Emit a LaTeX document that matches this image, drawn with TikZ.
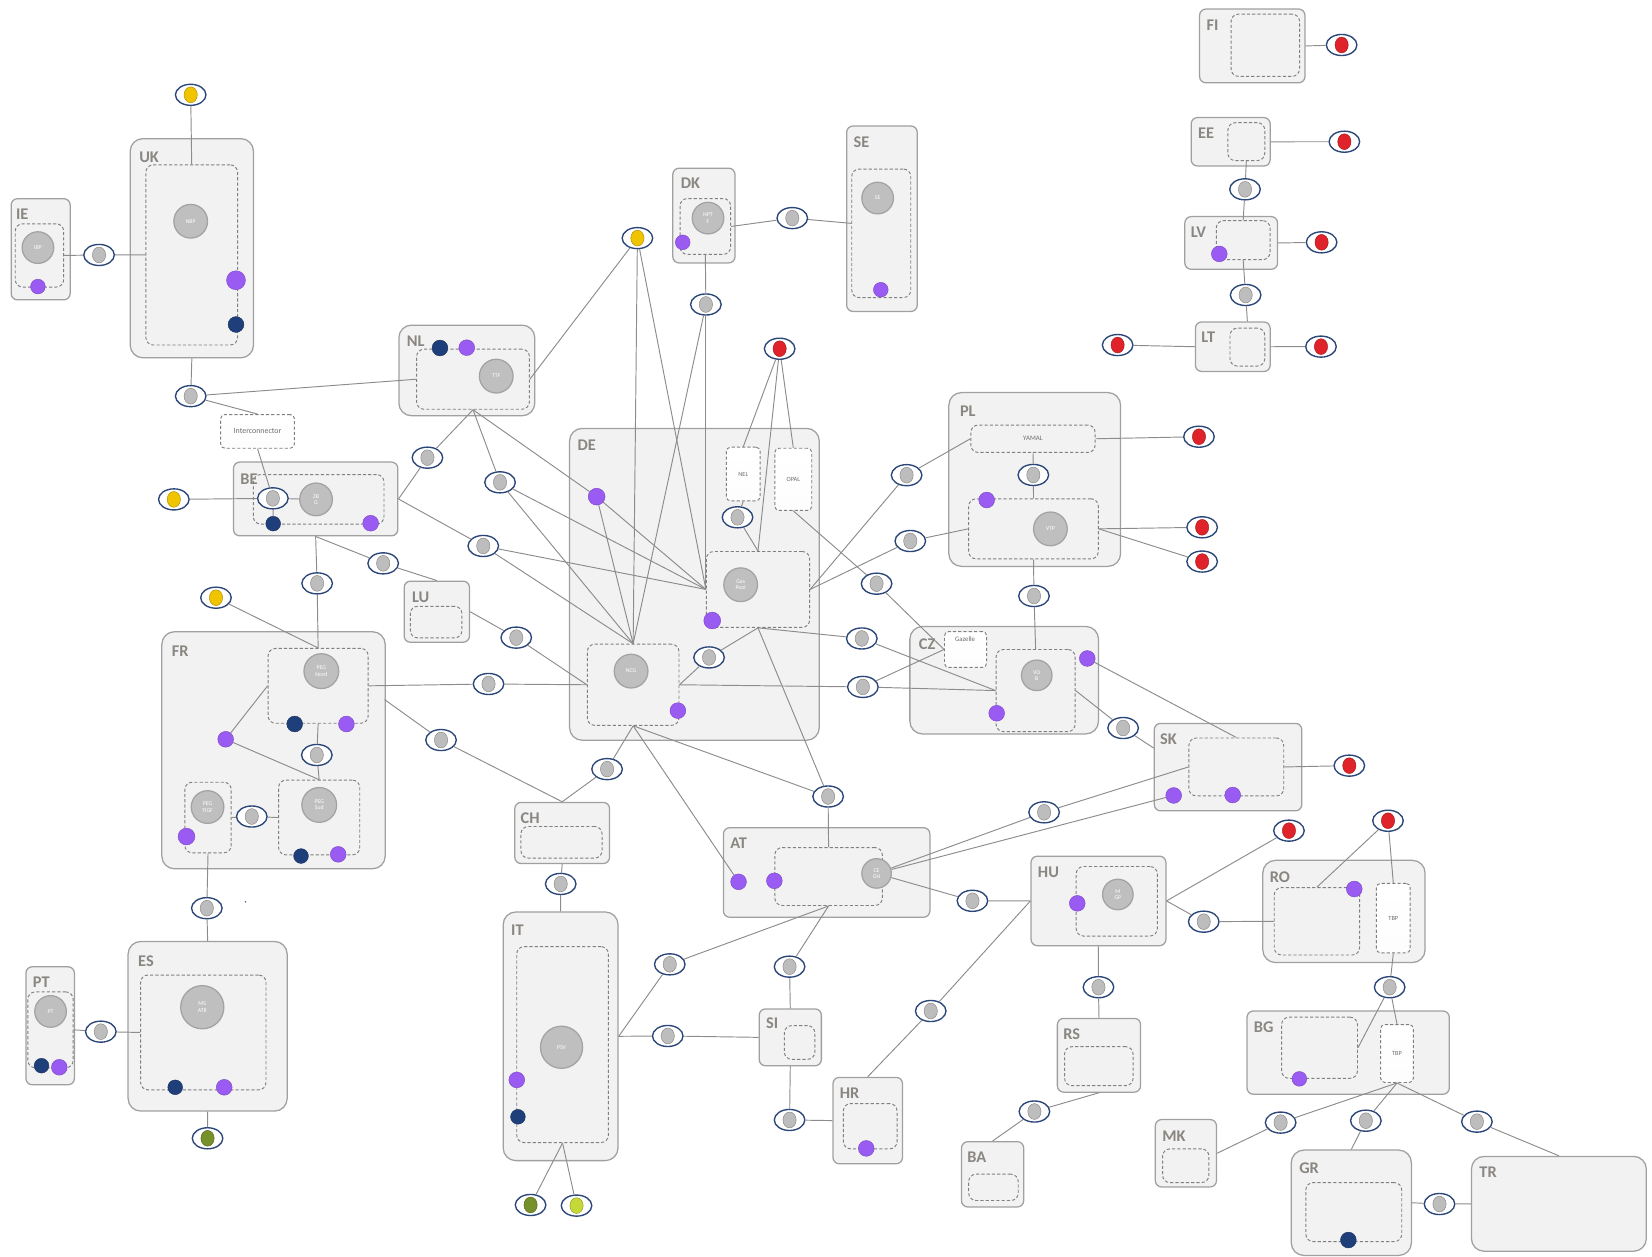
\documentclass[tikz,border=0pt]{standalone}
\usepackage{fontspec}
\setmainfont{Carlito}
\usetikzlibrary{shapes.geometric}
\definecolor{boxfill}{HTML}{F2F2F2}
\definecolor{boxdraw}{HTML}{A0A0A0}
\definecolor{dashdraw}{HTML}{808080}
\definecolor{hubfill}{HTML}{BFBFBF}
\definecolor{hubdraw}{HTML}{A3A3A3}
\definecolor{linegray}{HTML}{8C8C8C}
\definecolor{navyc}{HTML}{1F3F7A}
\definecolor{termblue}{HTML}{2B4679}
\definecolor{purp}{HTML}{9A5BF2}
\definecolor{redc}{HTML}{E0222A}
\definecolor{yel}{HTML}{F0C400}
\definecolor{olivec}{HTML}{76902A}
\definecolor{limec}{HTML}{C5D936}
\definecolor{tgray}{HTML}{BDBDBD}
\definecolor{lblcol}{HTML}{8A8682}
\definecolor{txtgray}{HTML}{6E6E6E}
\newcommand\mkbox[7]{\node[#6, anchor=north west, minimum width={(#4-(#2))*1pt}, minimum height={(#5-(#3))*1pt}] (#1) at (#2,#3) {#7};}
\newcommand\mklbl[3]{\node[lblst] (L#3) at (#1,#2) {#3};}
\newcommand\mkhub[5]{\node[hubst, minimum size={2*#4*1pt}] (#1) at (#2,#3) {#5};}
\newcommand\mkdot[5]{\node[circle, inner sep=0pt, fill=#4, draw=#4!80!black, line width=0.4pt, minimum size={2*#5*1pt}] (#1) at (#2,#3) {};}
\newcommand\mkterm[4]{\node[termst] (#1) at (#2,#3) {};\filldraw[fill=#4, draw=#4!70!black, line width=0.4pt] (#1.center) ellipse [x radius=6.3, y radius=7.5];}
\begin{document}
\begin{tikzpicture}[x=1pt,y=-1pt,
  box/.style={draw=boxdraw, fill=boxfill, line width=1.2pt, rounded corners=6pt, inner sep=0pt},
  bigbox/.style={box, rounded corners=12pt},
  inb/.style={draw=dashdraw, dash pattern=on 3pt off 2pt, line width=0.9pt, rounded corners=7pt, inner sep=0pt, text=txtgray, font=\fontsize{6.5}{7}\selectfont},
  wb/.style={inb, rounded corners=4pt, top color=white, bottom color=white!85!boxfill, font=\fontsize{6}{7}\selectfont},
  lblst/.style={anchor=west, inner sep=0pt, text=lblcol, font=\fontsize{15.5}{16}\selectfont\bfseries},
  hubst/.style={circle, fill=hubfill, draw=hubdraw, line width=1.2pt, inner sep=0pt, text=white, align=center, font=\fontsize{5.5}{6}\selectfont},
  termst/.style={ellipse, draw=termblue, line width=1.3pt, fill=white, minimum width=29pt, minimum height=20pt, inner sep=0pt},
  cn/.style={draw=linegray, line width=0.9pt}]
\useasboundingbox (0,0) rectangle (1568,1193);
% outer boxes
\mkbox{ie}{10}{188}{66}{284}{box}{}
\mkbox{uk}{123}{131}{240}{339}{bigbox}{}
\mkbox{nl}{378}{308}{507}{394}{bigbox}{}
\mkbox{dk}{638}{159}{697}{249}{box}{}
\mkbox{se}{803}{119}{870}{295}{box}{}
\mkbox{de}{540}{406}{777}{702}{bigbox}{}
\mkbox{be}{221}{438}{377}{508}{box}{}
\mkbox{lu}{383}{551}{445}{609}{box}{}
\mkbox{fr}{153}{599}{365}{824}{bigbox}{}
\mkbox{pl}{900}{372}{1063}{537}{bigbox}{}
\mkbox{cz}{863}{594}{1042}{696}{bigbox}{}
\mkbox{sk}{1095}{686}{1235}{769}{box}{}
\mkbox{at}{686}{785}{882}{870}{box}{}
\mkbox{hu}{978}{812}{1106}{897}{box}{}
\mkbox{ch}{488}{761}{578}{819}{box}{}
\mkbox{it}{477}{865}{586}{1101}{bigbox}{}
\mkbox{es}{121}{893}{272}{1054}{bigbox}{}
\mkbox{pt}{24}{917}{70}{1029}{box}{}
\mkbox{si}{720}{957}{779}{1011}{box}{}
\mkbox{hr}{790}{1022}{856}{1104}{box}{}
\mkbox{rs}{1003}{966}{1082}{1036}{box}{}
\mkbox{ba}{912}{1083}{971}{1145}{box}{}
\mkbox{ro}{1198}{816}{1352}{913}{bigbox}{}
\mkbox{bg}{1183}{959}{1375}{1038}{box}{}
\mkbox{mk}{1096}{1062}{1154}{1126}{box}{}
\mkbox{gr}{1225}{1091}{1339}{1191}{bigbox}{}
\mkbox{tr}{1396}{1097}{1562}{1187}{bigbox}{}
\mkbox{fi}{1138}{8}{1238}{78}{box}{}
\mkbox{ee}{1130}{111}{1205}{157}{box}{}
\mkbox{lv}{1124}{205}{1212}{255}{box}{}
\mkbox{lt}{1134}{305}{1205}{352}{box}{}
% labels
\mklbl{15}{203}{IE}
\mklbl{132}{149}{UK}
\mklbl{386}{324}{NL}
\mklbl{646}{174}{DK}
\mklbl{810}{135}{SE}
\mklbl{548}{423}{DE}
\mklbl{228}{455}{BE}
\mklbl{391}{567}{LU}
\mklbl{163}{618}{FR}
\mklbl{911}{390}{PL}
\mklbl{872}{611}{CZ}
\mklbl{1101}{702}{SK}
\mklbl{693}{800}{AT}
\mklbl{985}{828}{HU}
\mklbl{494}{777}{CH}
\mklbl{485}{883}{IT}
\mklbl{131}{912}{ES}
\mklbl{31}{932}{PT}
\mklbl{727}{971}{SI}
\mklbl{797}{1038}{HR}
\mklbl{1009}{982}{RS}
\mklbl{918}{1098}{BA}
\mklbl{1205}{833}{RO}
\mklbl{1190}{975}{BG}
\mklbl{1103}{1078}{MK}
\mklbl{1233}{1109}{GR}
\mklbl{1404}{1113}{TR}
\mklbl{1145}{24}{FI}
\mklbl{1137}{126}{EE}
\mklbl{1130}{220}{LV}
\mklbl{1140}{320}{LT}
% inner boxes
\mkbox{iei}{14}{212}{60}{272}{inb}{}
\mkbox{uki}{138}{156}{225}{327}{inb}{}
\mkbox{nli}{395}{331}{502}{388}{inb}{}
\mkbox{dki}{645}{188}{693}{241}{inb}{}
\mkbox{sei}{808}{160}{864}{282}{inb}{}
\mkbox{bei}{240}{450}{364}{497}{inb}{}
\mkbox{lui}{389}{575}{438}{605}{inb}{}
\mkbox{gp}{670}{523}{768}{595}{inb}{}
\mkbox{ncgi}{557}{611}{644}{688}{inb}{}
\mkbox{nel}{689}{424}{721}{475}{wb}{NEL}
\mkbox{opal}{735}{425}{770}{484}{wb}{OPAL}
\mkbox{pn}{254}{615}{349}{686}{inb}{}
\mkbox{ps}{264}{740}{341}{811}{inb}{}
\mkbox{tigf}{175}{742}{219}{809}{inb}{}
\mkbox{yam}{921}{403}{1039}{429}{inb}{YAMAL}
\mkbox{vtpi}{919}{473}{1042}{530}{inb}{}
\mkbox{gaz}{896}{599}{936}{633}{wb}{}
\node[inner sep=0pt, text=txtgray, font=\fontsize{6.5}{7}\selectfont] (gaztxt) at (916,607) {Gazelle};
\mkbox{vobi}{945}{616}{1020}{694}{inb}{}
\mkbox{ski}{1128}{700}{1218}{755}{inb}{}
\mkbox{ati}{735}{804}{837}{859}{inb}{}
\mkbox{hui}{1021}{822}{1098}{888}{inb}{}
\mkbox{chi}{494}{784}{571}{814}{inb}{}
\mkbox{iti}{490}{898}{577}{1084}{inb}{}
\mkbox{esi}{133}{925}{252}{1034}{inb}{}
\mkbox{pti}{26}{941}{69}{1013}{inb}{}
\mkbox{sii}{744}{973}{773}{1005}{inb}{}
\mkbox{hri}{800}{1047}{851}{1090}{inb}{}
\mkbox{rsi}{1010}{993}{1075}{1030}{inb}{}
\mkbox{bai}{919}{1114}{966}{1139}{inb}{}
\mkbox{roi}{1209}{842}{1290}{906}{inb}{}
\mkbox{rotbp}{1306}{838}{1338}{904}{wb}{TBP}
\mkbox{bgi}{1216}{965}{1288}{1023}{inb}{}
\mkbox{bgtbp}{1310}{972}{1341}{1027}{wb}{TBP}
\mkbox{mki}{1103}{1090}{1147}{1122}{inb}{}
\mkbox{gri}{1239}{1122}{1330}{1178}{inb}{}
\mkbox{fii}{1168}{13}{1233}{72}{inb}{}
\mkbox{eei}{1165}{116}{1200}{152}{inb}{}
\mkbox{lvi}{1154}{209}{1205}{246}{inb}{}
\mkbox{lti}{1167}{311}{1200}{347}{inb}{}
\mkbox{ic}{209}{393}{279}{425}{wb,font=\fontsize{7.5}{8}\selectfont}{Interconnector}
% hubs
\mkhub{ibp}{36}{235}{15}{IBP}
\mkhub{nbp}{181}{210}{16}{NBP}
\mkhub{ttf}{471}{357}{16}{TTF}
\mkhub{zbg}{300}{474}{15.5}{ZB\\G}
\mkhub{nptf}{672}{207}{15}{NPT\\F}
\mkhub{seh}{833}{188}{15}{SE}
\mkhub{gph}{703}{555}{16}{Gas\\Pool}
\mkhub{ncg}{599}{637}{16}{NCG}
\mkhub{pnh}{305}{637}{16.5}{PEG\\Nord}
\mkhub{psh}{303}{764}{16.5}{PEG\\Sud}
\mkhub{tgh}{197}{766}{15.5}{PEG\\TIGF}
\mkhub{cegh}{832}{829}{14}{CE\\GH}
\mkhub{vob}{984}{641}{14.5}{VO\\B}
\mkhub{vtp}{997}{502}{16}{VTP}
\mkhub{mgp}{1061}{849}{14.5}{M\\GP}
\mkhub{psv}{533}{994}{20}{PSV}
\mkhub{msatr}{192}{956}{20.5}{MS\\ATR}
\mkhub{pth}{48}{960}{15}{PT}
% dots
\mkdot{iep}{36}{272}{purp}{7}
\mkdot{ukp}{224}{266}{purp}{9}
\mkdot{ukn}{224}{308}{navyc}{7.5}
\mkdot{nln}{417.6}{330.3}{navyc}{7.5}
\mkdot{nlp}{443}{330}{purp}{7.5}
\mkdot{benavy}{259.3}{497}{navyc}{7}
\mkdot{bep}{351.8}{496.6}{purp}{7.5}
\mkdot{dkp}{648}{230}{purp}{7}
\mkdot{sep}{836}{275}{purp}{7}
\mkdot{depurple}{566.3}{471.4}{purp}{8}
\mkdot{gpp}{676}{589}{purp}{8}
\mkdot{ncgp}{643.4}{674.5}{purp}{7.5}
\mkdot{pnn}{279.7}{687.2}{navyc}{7.5}
\mkdot{pnp}{328.8}{687.2}{purp}{7.5}
\mkdot{frp}{214.2}{701.7}{purp}{7.5}
\mkdot{psn}{285.7}{812.5}{navyc}{7}
\mkdot{psp}{321}{810.9}{purp}{7.5}
\mkdot{tgp}{177}{794}{purp}{8}
\mkdot{plp}{936.5}{474.6}{purp}{7.5}
\mkdot{czp1}{946}{677}{purp}{7.5}
\mkdot{czp2}{1032}{625}{purp}{7.5}
\mkdot{skp1}{1114}{755}{purp}{7.5}
\mkdot{skp2}{1170}{754.6}{purp}{7.5}
\mkdot{atp1}{701}{837}{purp}{7.5}
\mkdot{atp2}{735}{836}{purp}{7.5}
\mkdot{hup}{1022.5}{857.4}{purp}{7.5}
\mkdot{itp}{490.5}{1025}{purp}{7.5}
\mkdot{itn}{491.6}{1060}{navyc}{7}
\mkdot{esn}{166.3}{1032}{navyc}{7}
\mkdot{esp}{212.8}{1032}{purp}{7.5}
\mkdot{ptn}{39.4}{1011.5}{navyc}{7}
\mkdot{ptp}{56.3}{1013}{purp}{7.5}
\mkdot{hrp}{822.2}{1090}{purp}{7.5}
\mkdot{rop}{1285.4}{843.8}{purp}{7.5}
\mkdot{bgp}{1233.3}{1024}{purp}{7}
\mkdot{grn}{1279.8}{1177}{navyc}{7.5}
\mkdot{lvp}{1157.3}{241}{purp}{7.5}
\node[circle, fill=navyc, inner sep=0pt, minimum size=1.6pt] (speck) at (233,856) {};
% terminals
\mkterm{tukY}{181}{90}{yel}
\mkterm{tieuk}{94}{242}{tgray}
\mkterm{tukb}{181}{376}{tgray}
\mkterm{tbeY}{165}{474}{yel}
\mkterm{tbe}{259}{473}{tgray}
\mkterm{tnlbe}{405.7}{434.4}{tgray}
\mkterm{tnl2}{474.6}{457.8}{tgray}
\mkterm{tbe2}{458.7}{518.2}{tgray}
\mkterm{tbelu}{363.7}{534.7}{tgray}
\mkterm{tbefr}{301}{553.7}{tgray}
\mkterm{tfrY}{205}{567.3}{yel}
\mkterm{tlu}{490}{605.2}{tgray}
\mkterm{tfr1}{463.7}{649.2}{tgray}
\mkterm{tfr2}{418.6}{702.4}{tgray}
\mkterm{tfrNS}{300.7}{716.6}{tgray}
\mkterm{ttigf}{239}{775}{tgray}
\mkterm{tfres}{196.3}{862}{tgray}
\mkterm{tpt}{95.7}{979.2}{tgray}
\mkterm{tesG}{197}{1080.4}{olivec}
\mkterm{tch}{576.2}{730}{tgray}
\mkterm{tchit}{532.2}{839}{tgray}
\mkterm{titG}{503.6}{1143.7}{olivec}
\mkterm{titL}{547.2}{1144.3}{limec}
\mkterm{tY}{605}{226}{yel}
\mkterm{tdk}{670}{289}{tgray}
\mkterm{tdkse}{752}{207}{tgray}
\mkterm{tred}{740}{331}{redc}
\mkterm{tnel}{700}{491}{tgray}
\mkterm{topal}{832}{554}{tgray}
\mkterm{tgpn}{673}{624}{tgray}
\mkterm{tgpcz}{818}{606}{tgray}
\mkterm{tncgcz}{819}{652}{tgray}
\mkterm{tat}{786}{756}{tgray}
\mkterm{tplY}{860.5}{451}{tgray}
\mkterm{tplV}{864}{513.5}{tgray}
\mkterm{tyamR}{1138}{414.5}{redc}
\mkterm{tvtpRa}{1141}{500.5}{redc}
\mkterm{tvtpRb}{1141}{533}{redc}
\mkterm{tplcz}{981.4}{565.7}{tgray}
\mkterm{tyv}{980.8}{450.8}{tgray}
\mkterm{tczsk}{1066}{691}{tgray}
\mkterm{tskR}{1280.7}{726.7}{redc}
\mkterm{tatsk}{991}{771}{tgray}
\mkterm{tathu}{923}{855}{tgray}
\mkterm{thuR}{1223.4}{788.4}{redc}
\mkterm{thuro}{1142.5}{874.8}{tgray}
\mkterm{thurs}{1042.6}{937}{tgray}
\mkterm{thr}{883.4}{959.6}{tgray}
\mkterm{tatit}{635.7}{915.3}{tgray}
\mkterm{titsi}{633.8}{983.3}{tgray}
\mkterm{tatsi}{749.4}{917.5}{tgray}
\mkterm{tsihr}{749.4}{1063}{tgray}
\mkterm{trsba}{981.8}{1055}{tgray}
\mkterm{troR}{1317.4}{779}{redc}
\mkterm{trobg}{1319}{937}{tgray}
\mkterm{tmk}{1215.5}{1065.5}{tgray}
\mkterm{tgr}{1296.4}{1063.7}{tgray}
\mkterm{ttr}{1401.8}{1064.6}{tgray}
\mkterm{tgrtr}{1366.3}{1142.8}{tgray}
\mkterm{tfiR}{1273.4}{42.7}{redc}
\mkterm{teeR}{1276}{134.5}{redc}
\mkterm{teelv}{1181.7}{179.7}{tgray}
\mkterm{tlvR}{1254.4}{230}{redc}
\mkterm{tlvlt}{1182.3}{280}{tgray}
\mkterm{tltRa}{1060.8}{327.5}{redc}
\mkterm{tltRb}{1253.8}{329}{redc}
% free ends
\coordinate (seL) at (808,212);
\coordinate (frE) at (365,664);
\coordinate (skW) at (1095,710);
% connectors
\draw[cn] (tukY) -- (uki.north);
\draw[cn] (iei.east) -- (tieuk) -- (uki.west);
\draw[cn] (uk.south) -- (tukb);
\draw[cn] (tukb) -- (nli.west);
\draw[cn] (tukb) -- (ic.north);
\draw[cn] (ic.south) -- (tbe);
\draw[cn] (tbeY) -- (tbe) -- (zbg);
\draw[cn] (tbe) -- (benavy);
\draw[cn] (be.east) -- (tnlbe) -- (nli.south);
\draw[cn] (be.east) -- (tbe2);
\draw[cn] (nli.south) -- (tnl2);
\draw[cn] (nli.south) -- (depurple);
\foreach \s in {tnl2,tbe2,depurple,tY,tdk} {\draw[cn] (\s) -- (gp.west); \draw[cn] (\s) -- (ncgi.north);}
\draw[cn] (tY) -- (nli.east);
\draw[cn] (dki.south) -- (tdk);
\draw[cn] (dki.east) -- (tdkse) -- (seL);
\draw[cn] (tred) -- (nel.north);
\draw[cn] (tred) -- (gp.north);
\draw[cn] (tred) -- (opal.north);
\draw[cn] (nel.south) -- (tnel) -- (gp.north);
\draw[cn] (opal.south) -- (topal) -- (gaz.west);
\draw[cn] (gp.east) -- (tplY) -- (yam.west);
\draw[cn] (gp.east) -- (tplV) -- (vtpi.west);
\draw[cn] (yam.east) -- (tyamR);
\draw[cn] (yam.south) -- (tyv) -- (vtpi.north);
\draw[cn] (vtpi.east) -- (tvtpRa);
\draw[cn] (vtpi.east) -- (tvtpRb);
\draw[cn] (vtpi.south) -- (tplcz) -- (vobi.north);
\draw[cn] (gp.south) -- (tgpn) -- (ncgi.east);
\draw[cn] (gp.south) -- (tgpcz) -- (vobi.west);
\draw[cn] (ncgi.east) -- (tncgcz) -- (vobi.west);
\draw[cn] (tncgcz) -- (gaz.west);
\draw[cn] (gp.south) -- (tat) -- (ati.north);
\draw[cn] (ncgi.south) -- (tat);
\draw[cn] (ncgi.south) -- (atp1);
\draw[cn] (ncgi.south) -- (tch) -- (ch.north);
\draw[cn] (frE) -- (tfr2) -- (ch.north);
\draw[cn] (pn.east) -- (tfr1) -- (ncgi.west);
\draw[cn] (lu.east) -- (tlu) -- (ncgi.west);
\draw[cn] (be.south) -- (tbefr) -- (pn.north);
\draw[cn] (be.south) -- (tbelu) -- (lu.north);
\draw[cn] (tfrY) -- (pn.north);
\draw[cn] (frp) -- (pn.west);
\draw[cn] (frp) -- (ps.north);
\draw[cn] (pn.south) -- (tfrNS) -- (ps.north);
\draw[cn] (tigf.east) -- (ttigf) -- (ps.west);
\draw[cn] (tigf.south) -- (tfres) -- (es.north);
\draw[cn] (pti.east) -- (tpt) -- (esi.west);
\draw[cn] (es.south) -- (tesG);
\draw[cn] (ch.south) -- (tchit) -- (it.north);
\draw[cn] (iti.south) -- (titG);
\draw[cn] (iti.south) -- (titL);
\draw[cn] (ati.south) -- (tatit) -- (it.east);
\draw[cn] (it.east) -- (titsi) -- (si.west);
\draw[cn] (ati.south) -- (tatsi) -- (si.north);
\draw[cn] (si.south) -- (tsihr) -- (hr.west);
\draw[cn] (hr.north) -- (thr) -- (hu.west);
\draw[cn] (cegh) -- (tathu) -- (hu.west);
\draw[cn] (cegh) -- (tatsk) -- (ski.west);
\draw[cn] (cegh) -- (skp1);
\draw[cn] (vobi.east) -- (tczsk) -- (skW);
\draw[cn] (czp2) -- (ski.north);
\draw[cn] (ski.east) -- (tskR);
\draw[cn] (hu.east) -- (thuR);
\draw[cn] (hu.east) -- (thuro) -- (roi.west);
\draw[cn] (hu.south) -- (thurs) -- (rs.north);
\draw[cn] (rs.south) -- (trsba) -- (ba.north);
\draw[cn] (troR) -- (roi.north);
\draw[cn] (troR) -- (rotbp.north);
\draw[cn] (rotbp.south) -- (trobg) -- (bgi.east);
\draw[cn] (trobg) -- (bgtbp.north);
\draw[cn] (bgtbp.south) -- (tmk) -- (mk.east);
\draw[cn] (bgtbp.south) -- (tgr) -- (gr.north);
\draw[cn] (bgtbp.south) -- (ttr) -- (tr.north);
\draw[cn] (gr.east) -- (tgrtr) -- (tr.west);
\draw[cn] (fi.east) -- (tfiR);
\draw[cn] (ee.east) -- (teeR);
\draw[cn] (eei.south) -- (teelv) -- (lvi.north);
\draw[cn] (lv.east) -- (tlvR);
\draw[cn] (lvi.south) -- (tlvlt) -- (lti.north |- lt.north);
\draw[cn] (tltRa) -- (lt.west);
\draw[cn] (lt.east) -- (tltRb);
\end{tikzpicture}
\end{document}
